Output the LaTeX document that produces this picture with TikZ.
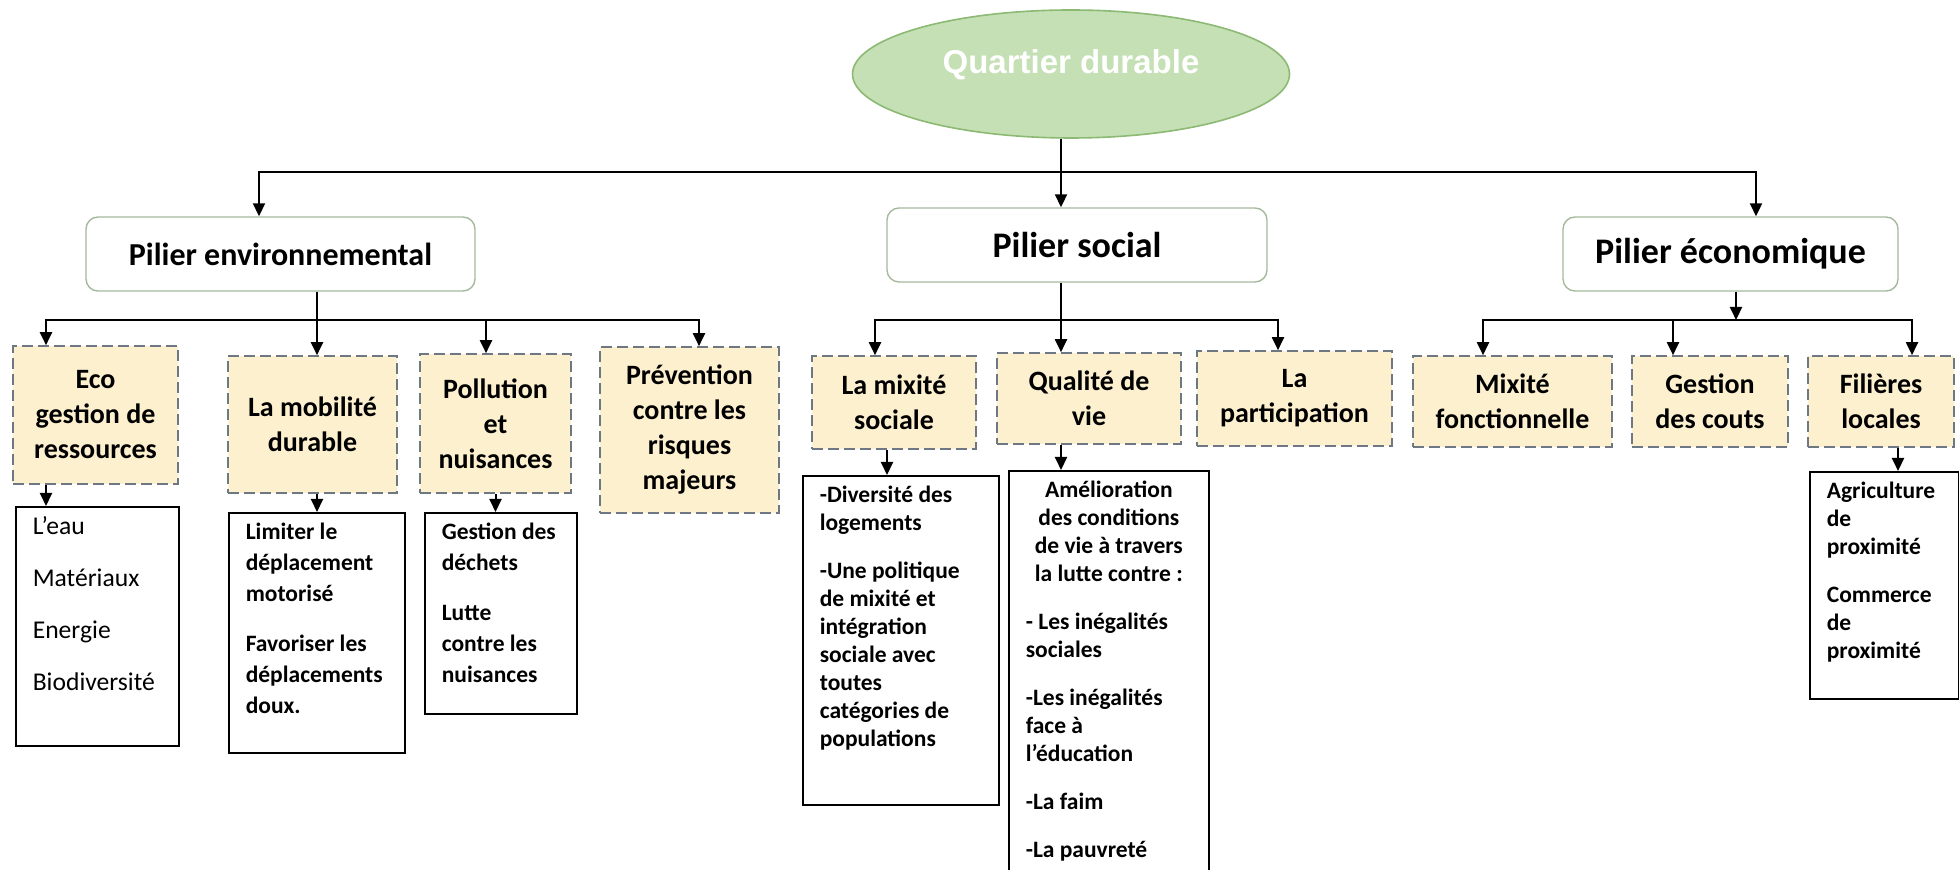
\documentclass[tikz,border=0pt]{standalone}
\usepackage{fontspec}
\setmainfont{Carlito}
\newfontfamily\titrefont{Liberation Sans}
\usetikzlibrary{arrows.meta,positioning,shapes.geometric}

\definecolor{vertracine}{RGB}{197,224,180}
\definecolor{bordracine}{RGB}{140,185,115}
\definecolor{bordpilier}{RGB}{165,185,155}
\definecolor{beige}{RGB}{253,240,207}
\definecolor{bordtheme}{RGB}{110,120,130}

\begin{document}
\begin{tikzpicture}[
   x=0.5pt, y=-0.5pt,
   >={Triangle[width=6pt,length=6.5pt]}, line width=1pt,
   racine/.style={ellipse,fill=vertracine,draw=bordracine,line width=0.8pt,
                  minimum width=218.5pt,minimum height=64pt,inner sep=0pt,
                  text=white,font=\titrefont\bfseries\fontsize{16.5}{20}\selectfont,
                  text height=0pt,text depth=0pt},
   pilier/.style={draw=bordpilier,rounded corners=6pt,line width=0.7pt,
                  minimum height=37pt},
   theme/.style={draw=bordtheme,fill=beige,dash pattern=on 5.5pt off 2.5pt,
                 line width=0.8pt,align=center,inner sep=2pt,
                 font=\bfseries\fontsize{14}{17.5}\selectfont},
   liste/.style={draw,line width=0.8pt,anchor=north west,inner xsep=8.5pt,
                 inner ysep=5pt,font=\bfseries\fontsize{11.75}{14}\selectfont},
   fleche/.style={->,line width=1pt},
   trait/.style={line width=1pt},
   ]
\useasboundingbox (0,0) rectangle (1959,870);
%% Racine
\node[racine] (quartier) at (1071,74) {Quartier durable};
%% Les trois piliers
\node[pilier,minimum width=194.5pt,font=\bfseries\fontsize{16}{19}\selectfont]
   (env) at (280.5,254) {Pilier environnemental};
\node[pilier,minimum width=190pt,font=\bfseries\fontsize{18}{21}\selectfont]
   (soc) at (1077,245) {Pilier social};
\node[pilier,minimum width=167.5pt,font=\bfseries\fontsize{18}{21}\selectfont]
   (eco) at (1730.5,254) {Pilier économique};
%% Themes : pilier environnemental
\node[theme,minimum width=82.5pt,minimum height=69pt] (ressources) at (95.5,415) {Eco\\gestion de\\ressources};
\node[theme,minimum width=84.5pt,minimum height=68.5pt] (mobilite) at (312.5,424.5) {La mobilité\\durable};
\node[theme,minimum width=75.5pt,minimum height=69.5pt] (pollution) at (495.5,423.5) {Pollution\\et\\nuisances};
\node[theme,minimum width=89.5pt,minimum height=83pt] (risques) at (689.5,430) {Prévention\\contre les\\risques\\majeurs};
%% Themes : pilier social
\node[theme,minimum width=82pt,minimum height=46.5pt] (mixite) at (894,402.5) {La mixité\\sociale};
\node[theme,minimum width=92pt,minimum height=45.5pt] (qualite) at (1089,398.5) {Qualité de\\vie};
\node[theme,minimum width=97.5pt,minimum height=47.5pt] (participation) at (1294.5,398.5) {La\\participation};
%% Themes : pilier economique
\node[theme,minimum width=99.5pt,minimum height=45.5pt] (fonction) at (1512.5,401.5) {Mixité\\fonctionnelle};
\node[theme,minimum width=78pt,minimum height=45.5pt] (couts) at (1710,401.5) {Gestion\\des couts};
\node[theme,minimum width=73pt,minimum height=45.5pt] (filieres) at (1881,401.5) {Filières\\locales};
%% Listes de details
\node[liste,font=\fontsize{12.8}{26}\selectfont] (ressourcesL) at (15,506)
   {\begin{minipage}[t][109.5pt][t]{64.5pt}\raggedright
    L’eau\\Matériaux\\Energie\\Biodiversité\end{minipage}};
\node[liste,font=\bfseries\fontsize{11.75}{15.5}\selectfont] (mobiliteL) at (228,512)
   {\begin{minipage}[t][110pt][t]{71pt}\raggedright
    Limiter le\\déplacement\\motorisé\\[9.5pt]Favoriser les\\déplacements\\doux.\end{minipage}};
\node[liste,font=\bfseries\fontsize{11.75}{15.5}\selectfont] (pollutionL) at (424,512)
   {\begin{minipage}[t][90.5pt][t]{59pt}\raggedright
    Gestion des\\déchets\\[9.5pt]Lutte\\contre les\\nuisances\end{minipage}};
\node[liste] (mixiteL) at (802,475)
   {\begin{minipage}[t][154.5pt][t]{81pt}\raggedright
    -Diversité des\\logements\\[10pt]-Une politique\\de mixité et\\intégration\\sociale avec\\toutes\\catégories de\\populations\end{minipage}};
\node[liste] (qualiteL) at (1008,470)
   {\begin{minipage}[t][195pt][t]{83pt}
    {\centering Amélioration\\des conditions\\de vie à travers\\la lutte contre :\par}
    \vspace{10pt}\raggedright
    - Les inégalités\\sociales\\[10pt]-Les inégalités\\face à\\l’éducation\\[10pt]-La faim\\[10pt]-La pauvreté\end{minipage}};
\node[liste] (filieresL) at (1809,471)
   {\begin{minipage}[t][103.5pt][t]{57.5pt}\raggedright
    Agriculture\\de\\proximité\\[10pt]Commerce\\de\\proximité\end{minipage}};
%% Liaisons racine -> piliers
\coordinate (tronc) at (1061,172);
\draw[trait] (quartier.south -| tronc) -- (tronc);
\draw[fleche] (tronc) -- (tronc |- soc.north);
\draw[fleche] (tronc) -| ([xshift=-10.75pt]env.north);
\draw[fleche] (tronc) -| ([xshift=12.75pt]eco.north);
%% Liaisons pilier environnemental -> themes
\coordinate (busenv) at (317,320);
\draw[trait] (env.south -| busenv) -- (busenv);
\draw[fleche] (busenv) -- (busenv |- mobilite.north);
\draw[fleche] (busenv) -| ([xshift=-24.75pt]ressources.north);
\draw[fleche] (busenv) -| ([xshift=-4.75pt]pollution.north);
\draw[fleche] (busenv) -| ([xshift=4.75pt]risques.north);
%% Liaisons pilier social -> themes
\coordinate (bussoc) at (1061,320);
\draw[trait] (soc.south -| bussoc) -- (bussoc);
\draw[fleche] (bussoc) -- (bussoc |- qualite.north);
\draw[fleche] (bussoc) -| ([xshift=-9.5pt]mixite.north);
\draw[fleche] (bussoc) -| ([xshift=-8.25pt]participation.north);
%% Liaisons pilier economique -> themes
\coordinate (buseco) at (1736,320);
\draw[fleche] (eco.south -| buseco) -- (buseco);
\draw[fleche] (buseco) -| ([xshift=-14.75pt]fonction.north);
\draw[fleche] (buseco) -| ([xshift=-18.5pt]couts.north);
\draw[fleche] (buseco) -| ([xshift=15.5pt]filieres.north);
%% Liaisons themes -> listes
\coordinate (sres) at ([xshift=-24.75pt]ressources.south);
\coordinate (smix) at ([xshift=-3.5pt]mixite.south);
\coordinate (sfil) at ([xshift=8.5pt]filieres.south);
\draw[fleche] (sres) -- (sres |- ressourcesL.north);
\draw[fleche] (busenv |- mobilite.south) -- (busenv |- mobiliteL.north);
\draw[fleche] (pollution.south) -- (pollution.south |- pollutionL.north);
\draw[fleche] (smix) -- (smix |- mixiteL.north);
\draw[fleche] (bussoc |- qualite.south) -- (bussoc |- qualiteL.north);
\draw[fleche] (sfil) -- (sfil |- filieresL.north);
\end{tikzpicture}
\end{document}
